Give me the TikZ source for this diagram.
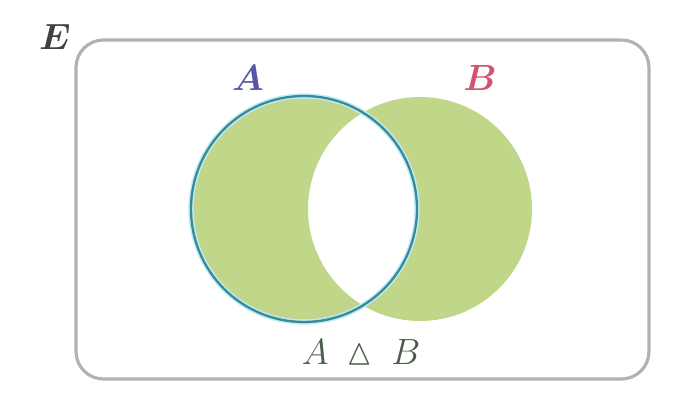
\documentclass[tikz,border=0pt]{standalone}
\usepackage{amsmath, amssymb}
\usepackage{bm}
\usetikzlibrary{positioning}
\definecolor{symfill}{RGB}{192,214,136}
\definecolor{setA}{RGB}{88,86,168}
\definecolor{setB}{RGB}{212,84,112}
\definecolor{rimA}{RGB}{58,138,148}
\definecolor{labgreen}{RGB}{72,92,72}

\begin{document}
\begin{tikzpicture}[x=0.02cm,y=0.02cm,every node/.style={font=\huge}]
  \useasboundingbox (0,0) rectangle (694,405);
  % universe E
  \draw[line width=1.8pt,gray!60,rounded corners=0.55cm] (76,26) rectangle (649,365);
  \node[black!75] (E) at (55,368) {$\bm{E}$};
  % A and B, symmetric difference shaded
  \coordinate (cA) at (304,196);
  \coordinate (cB) at (420,196);
  \fill[symfill,even odd rule] (cA) circle (113) (cB) circle (112);
  \draw[line width=3pt,cyan!25] (cA) circle (113);
  \draw[line width=1.3pt,rimA] (cA) circle (113);
  \node[setA] (labA) at (248,327) {$\bm{A}$};
  \node[setB] (labB) at (480,327) {$\bm{B}$};
  \node[labgreen] (AdB) at (361,53) {$A\;\mathbin{\vartriangle}\;B$};
\end{tikzpicture}
\end{document}
